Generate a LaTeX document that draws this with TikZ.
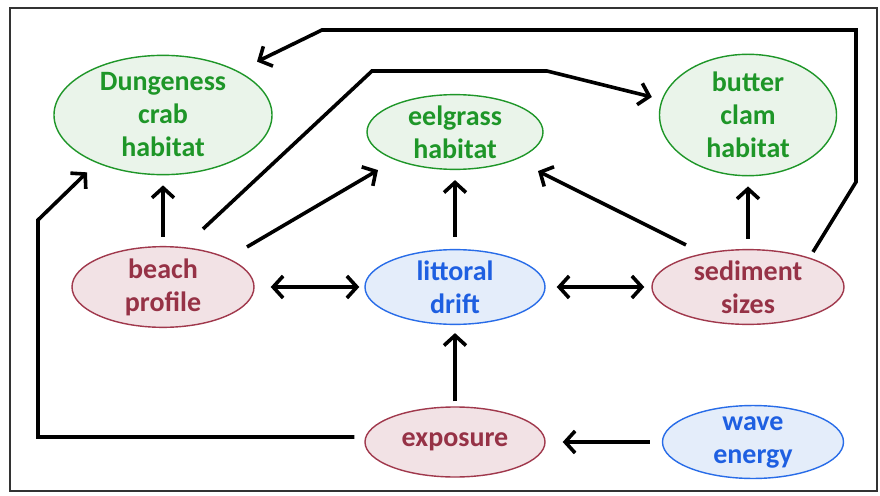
\documentclass[tikz,border=0pt]{standalone}
\usepackage{fontspec}
\setmainfont{Carlito}
\usetikzlibrary{shapes.geometric,arrows.meta,calc}
\definecolor{gtext}{RGB}{30,150,40}
\definecolor{gfill}{RGB}{234,244,234}
\definecolor{rtext}{RGB}{150,50,70}
\definecolor{rfill}{RGB}{242,226,229}
\definecolor{rdraw}{RGB}{160,56,76}
\definecolor{btext}{RGB}{30,95,225}
\definecolor{bfill}{RGB}{228,237,250}
\definecolor{bdraw}{RGB}{40,108,232}
\tikzset{
  ell/.style={ellipse,inner sep=0pt,line width=1.4pt,align=center,
    font=\fontsize{28}{33}\selectfont\bfseries},
  greenell/.style={ell,draw=gtext,fill=gfill,text=gtext},
  redell/.style={ell,draw=rdraw,fill=rfill,text=rtext},
  blueell/.style={ell,draw=bdraw,fill=bfill,text=btext},
  arr/.style={line width=3.6pt,-{Straight Barb[length=10pt,width=22pt]}},
  darr/.style={line width=3.6pt,{Straight Barb[length=10pt,width=22pt]}-{Straight Barb[length=10pt,width=22pt]}},
}
\begin{document}
\begin{tikzpicture}[x=1pt,y=-1pt]
\useasboundingbox (0,0) rectangle (880,495);
\fill[white] (0,0) rectangle (880,495);
\draw[line width=2pt,black!80] (10,8) rectangle (877,491);
% nodes
\node[greenell,minimum width=218pt,minimum height=104pt] (dung) at (163,115) {Dungeness\\crab\\habitat};
\node[greenell,minimum width=176pt,minimum height=70pt] (eel) at (455,132) {eelgrass\\habitat};
\node[greenell,minimum width=177pt,minimum height=104pt] (clam) at (748,115) {butter\\clam\\habitat};
\node[redell,minimum width=182pt,minimum height=70pt] (beach) at (163,287) {beach\\profile};
\node[blueell,minimum width=180pt,minimum height=70pt] (drift) at (455,287) {littoral\\drift};
\node[redell,minimum width=192pt,minimum height=70pt] (sed) at (748,287) {sediment\\sizes};
\node[redell,minimum width=180pt,minimum height=70pt] (expo) at (455,442) {exposure};
\node[blueell,minimum width=181pt,minimum height=70pt] (wave) at (753,442) {wave\\energy};
% waypoints
\coordinate (t1) at (856,182);
\coordinate (t2) at (856,30);
\coordinate (t3) at (322,30);
\coordinate (b1) at (372,71);
\coordinate (b2) at (547,71);
\coordinate (e1) at (38,437);
\coordinate (e2) at (38,220);
% connectors
\draw[arr,shorten <=9pt,shorten >=10pt] (beach.north) -- (dung.south);
\draw[arr,shorten <=12pt,shorten >=10pt] (drift.north) -- (eel.south);
\draw[arr,shorten <=10pt,shorten >=10pt] (sed.north) -- (clam.south);
\draw[arr,shorten <=5pt,shorten >=8pt] (expo.north) -- (drift.south);
\draw[darr,shorten <=16pt,shorten >=5pt] (beach.east) -- (drift.west);
\draw[darr,shorten <=11pt,shorten >=7pt] (drift.east) -- (sed.west);
\draw[arr,shorten <=12pt,shorten >=17pt] (wave.west) -- (expo.east);
\draw[arr] ([xshift=84pt,yshift=-1pt]beach.north) -- ([xshift=-77pt]eel.south);
\draw[arr] ([xshift=-62pt,yshift=4pt]sed.north) -- ([xshift=83pt,yshift=-1pt]eel.south);
\draw[arr,line join=miter] ([xshift=65pt,yshift=-3pt]sed.north) -- (t1) -- (t2) -- (t3) -- ([xshift=94pt,yshift=-7pt]dung.north);
\draw[arr,line join=miter] ([xshift=40pt,yshift=17pt]beach.north) -- (b1) -- (b2) -- ([xshift=-7pt,yshift=18pt]clam.west);
\draw[arr,line join=miter] ([xshift=-10pt,yshift=5pt]expo.west) -- (e1) -- (e2) -- ([xshift=-76pt,yshift=3pt]dung.south);
\end{tikzpicture}
\end{document}
